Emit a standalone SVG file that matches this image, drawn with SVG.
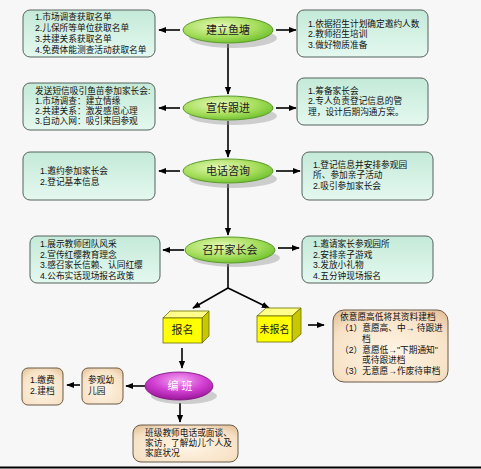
<svg xmlns="http://www.w3.org/2000/svg" width="481" height="469" viewBox="0 0 481 469">
<defs>
<radialGradient id="gGreen" cx="0.4" cy="0.35" r="0.7">
<stop offset="0" stop-color="#e6f9b8"/><stop offset="0.6" stop-color="#a6de5c"/><stop offset="1" stop-color="#6cbf2c"/>
</radialGradient>
<radialGradient id="gPurple" cx="0.5" cy="0.3" r="0.7">
<stop offset="0" stop-color="#f4a6f4"/><stop offset="0.55" stop-color="#d23fd2"/><stop offset="1" stop-color="#9a169a"/>
</radialGradient>
<linearGradient id="gMint" x1="0" y1="0" x2="0" y2="1">
<stop offset="0" stop-color="#c4ead9"/><stop offset="1" stop-color="#e4f8ef"/>
</linearGradient>
<radialGradient id="gTan" cx="0.5" cy="0.6" r="0.75">
<stop offset="0" stop-color="#fff5e6"/><stop offset="0.7" stop-color="#f7e2c6"/><stop offset="1" stop-color="#e2bf96"/>
</radialGradient>
<marker id="ah" viewBox="0 0 10 10" refX="9" refY="5" markerWidth="5" markerHeight="5" orient="auto">
<path d="M0,1 L10,5 L0,9 z" fill="#000"/>
</marker>
</defs>
<style>
.bg{fill:#f7f7f7}
.mint{fill:url(#gMint);stroke:#55625c;stroke-width:1}
.tan{fill:url(#gTan);stroke:#6b5a48;stroke-width:1}
.ell{fill:url(#gGreen);stroke:#5a9a2a;stroke-width:1}
.shadow{fill:#9a9a9a;opacity:0.45}
.t{font-family:"Liberation Sans","Noto Sans CJK SC",sans-serif;font-size:8.7px;fill:#111}
.te{font-family:"Liberation Sans","Noto Sans CJK SC",sans-serif;font-size:11px;fill:#222;text-anchor:middle}
.conn line{stroke:#000;stroke-width:1.6;fill:none}
.yf{fill:#ffff00;stroke:#6d6d00;stroke-width:0.8}
.yt{fill:#ffff8a;stroke:#6d6d00;stroke-width:0.8}
.yr{fill:#c8c800;stroke:#6d6d00;stroke-width:0.8}
</style>
<rect class="bg" x="0" y="0" width="481" height="469"/>
<line x1="0" y1="467.5" x2="481" y2="467.5" stroke="#000" stroke-width="2"/>

<g class="conn">
<line x1="228" y1="44" x2="228" y2="94" marker-end="url(#ah)"/>
<line x1="228" y1="121" x2="228" y2="157" marker-end="url(#ah)"/>
<line x1="228" y1="184" x2="228" y2="235" marker-end="url(#ah)"/>
<line x1="180" y1="30" x2="159" y2="30" marker-end="url(#ah)"/>
<line x1="276" y1="30" x2="296" y2="30" marker-end="url(#ah)"/>
<line x1="180" y1="108" x2="159" y2="108" marker-end="url(#ah)"/>
<line x1="276" y1="108" x2="296" y2="108" marker-end="url(#ah)"/>
<line x1="180" y1="171" x2="159" y2="171" marker-end="url(#ah)"/>
<line x1="276" y1="171" x2="300" y2="171" marker-end="url(#ah)"/>
<line x1="184" y1="250" x2="163" y2="250" marker-end="url(#ah)"/>
<line x1="278" y1="248" x2="299" y2="248" marker-end="url(#ah)"/>
<line x1="228" y1="264" x2="228" y2="288"/>
<line x1="228" y1="288" x2="193" y2="308" marker-end="url(#ah)"/>
<line x1="228" y1="288" x2="269" y2="308" marker-end="url(#ah)"/>
<line x1="308" y1="325" x2="324" y2="325" marker-end="url(#ah)"/>
<line x1="182" y1="348" x2="182" y2="368" marker-end="url(#ah)"/>
<line x1="145" y1="386" x2="126" y2="386" marker-end="url(#ah)"/>
<line x1="80" y1="385" x2="67" y2="385" marker-end="url(#ah)"/>
<line x1="180" y1="403" x2="180" y2="422" marker-end="url(#ah)"/>
</g>

<g id="n1">
<ellipse class="shadow" cx="233" cy="38" rx="44" ry="10"/>
<ellipse class="ell" cx="228" cy="30" rx="45" ry="13"/>
<text class="te" x="228" y="34">建立鱼塘</text>
</g>
<g id="n1l">
<rect class="mint" x="23" y="10" width="132" height="47" rx="7"/>
<text class="t" x="35" y="20">1.市场调查获取名单</text>
<text class="t" x="35" y="31">2.儿保所等单位获取名单</text>
<text class="t" x="35" y="42">3.共建关系获取名单</text>
<text class="t" x="35" y="53">4.免费体能测查活动获取名单</text>
</g>
<g id="n1r">
<rect class="mint" x="297" y="10" width="131" height="47" rx="7"/>
<text class="t" x="308" y="27">1.依据招生计划确定邀约人数</text>
<text class="t" x="308" y="37">2.教师招生培训</text>
<text class="t" x="308" y="48">3.做好物质准备</text>
</g>

<g id="n2">
<ellipse class="shadow" cx="233" cy="116" rx="44" ry="9"/>
<ellipse class="ell" cx="228" cy="108" rx="45" ry="12"/>
<text class="te" x="228" y="112">宣传跟进</text>
</g>
<g id="n2l">
<rect class="mint" x="23" y="83" width="132" height="47" rx="7"/>
<text class="t" x="35" y="94">发送短信吸引鱼苗参加家长会:</text>
<text class="t" x="35" y="104">1.市场调查：建立情缘</text>
<text class="t" x="35" y="114">2.共建关系：激发感恩心理</text>
<text class="t" x="35" y="124">3.自动入网：吸引来园参观</text>
</g>
<g id="n2r">
<rect class="mint" x="297" y="78" width="131" height="47" rx="7"/>
<text class="t" x="308" y="94">1.筹备家长会</text>
<text class="t" x="308" y="104">2.专人负责登记信息的管</text>
<text class="t" x="308" y="115">理，设计后期沟通方案。</text>
</g>

<g id="n3">
<ellipse class="shadow" cx="233" cy="179" rx="44" ry="9"/>
<ellipse class="ell" cx="228" cy="171" rx="45" ry="12"/>
<text class="te" x="228" y="175">电话咨询</text>
</g>
<g id="n3l">
<rect class="mint" x="23" y="152" width="132" height="48" rx="7"/>
<text class="t" x="40" y="174">1.邀约参加家长会</text>
<text class="t" x="40" y="185">2.登记基本信息</text>
</g>
<g id="n3r">
<rect class="mint" x="302" y="152" width="131" height="48" rx="7"/>
<text class="t" x="313" y="168">1.登记信息并安排参观园</text>
<text class="t" x="313" y="178">所、参加亲子活动</text>
<text class="t" x="313" y="189">2.吸引参加家长会</text>
</g>

<g id="n4">
<ellipse class="shadow" cx="236" cy="258" rx="44" ry="9"/>
<ellipse class="ell" cx="230" cy="250" rx="45" ry="13"/>
<text class="te" x="230" y="254">召开家长会</text>
</g>
<g id="n4l">
<rect class="mint" x="30" y="236" width="130" height="47" rx="7"/>
<text class="t" x="40" y="247">1.展示教师团队风采</text>
<text class="t" x="40" y="258">2.宣传红缨教育理念</text>
<text class="t" x="40" y="268">3.感召家长信赖、认同红缨</text>
<text class="t" x="40" y="279">4.公布实话现场报名政策</text>
</g>
<g id="n4r">
<rect class="mint" x="302" y="236" width="131" height="47" rx="7"/>
<text class="t" x="313" y="247">1.邀请家长参观园所</text>
<text class="t" x="313" y="258">2.安排亲子游戏</text>
<text class="t" x="313" y="268">3.发放小礼物</text>
<text class="t" x="313" y="279">4.五分钟现场报名</text>
</g>

<g id="n5">
<polygon class="yt" points="163,318 170,311 209,311 202,318"/>
<polygon class="yr" points="202,318 209,311 209,336 202,343"/>
<rect class="yf" x="163" y="318" width="39" height="25"/>
<text class="te" x="182.5" y="334">报名</text>
</g>
<g id="n6">
<polygon class="yt" points="257,316 266,308 301,308 292,316"/>
<polygon class="yr" points="292,316 301,308 301,334 292,342"/>
<rect class="yf" x="257" y="316" width="35" height="26"/>
<text class="te" x="274.5" y="333" style="font-size:10px">未报名</text>
</g>
<g id="n7">
<rect class="tan" x="333" y="310" width="115" height="72" rx="11"/>
<text class="t" x="340" y="320">依意愿高低将其资料建档</text>
<text class="t" x="340" y="331">（1）意愿高、中→ 待跟进</text>
<text class="t" x="362" y="342">档</text>
<text class="t" x="340" y="353">（2）意愿低→"下期通知"</text>
<text class="t" x="362" y="363">或待跟进档</text>
<text class="t" x="340" y="374">（3）无意愿→作废待审档</text>
</g>

<g id="n8">
<ellipse class="shadow" cx="184" cy="396" rx="33" ry="8"/>
<ellipse fill="url(#gPurple)" stroke="#7a107a" stroke-width="0.8" cx="179" cy="386" rx="34" ry="14"/>
<text class="te" x="180" y="390" style="fill:#fff">编  班</text>
</g>
<g id="n9">
<rect class="tan" x="82" y="368" width="41" height="36" rx="6"/>
<text class="t" x="88" y="383">参观幼</text>
<text class="t" x="88" y="394">儿园</text>
</g>
<g id="n10">
<rect class="tan" x="22" y="368" width="41" height="37" rx="6"/>
<text class="t" x="30" y="383">1.缴费</text>
<text class="t" x="30" y="394">2.建档</text>
</g>
<g id="n11">
<rect class="tan" x="133" y="425" width="105" height="37" rx="8"/>
<text class="t" x="145" y="436">班级教师电话或面谈、</text>
<text class="t" x="145" y="446">家访，了解幼儿个人及</text>
<text class="t" x="145" y="456">家庭状况</text>
</g>
</svg>
